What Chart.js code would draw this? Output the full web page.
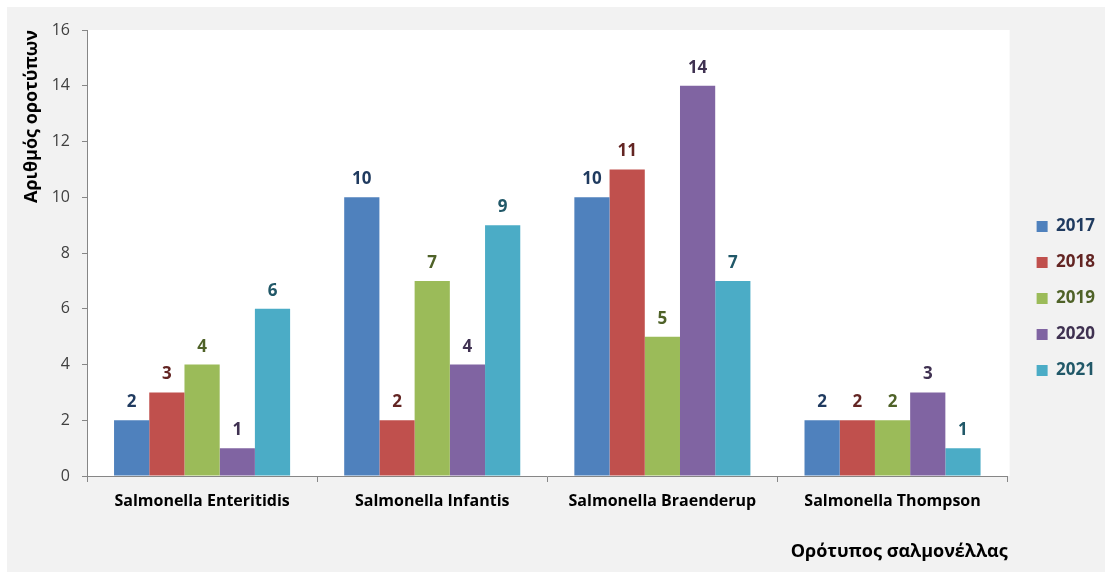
<!DOCTYPE html>
<html>
<head>
<meta charset="utf-8">
<script src="https://cdn.jsdelivr.net/npm/chart.js@4/dist/chart.umd.min.js"></script>
<style>
    html, body { margin: 0; padding: 0; background: #ffffff; }
    #wrap { position: relative; width: 1105px; height: 577px; }
</style>
</head>
<body>
<div id="wrap"><canvas id="serotypeChart" width="1105" height="577"></canvas></div>
<script>
// serotype counts per year
const categories = ['Salmonella Enteritidis', 'Salmonella Infantis', 'Salmonella Braenderup', 'Salmonella Thompson'];
const years = ['2017', '2018', '2019', '2020', '2021'];
const values2017 = [2, 10, 10, 2];
const values2018 = [3, 2, 11, 2];
const values2019 = [4, 7, 5, 2];
const values2020 = [1, 4, 14, 3];
const values2021 = [6, 9, 7, 1];
const yTicks = [0, 2, 4, 6, 8, 10, 12, 14, 16];

// office-style palette + darker shade for the value labels
const barColors = ['#4F81BD', '#C0504D', '#9BBB59', '#8064A2', '#4BACC6'];
const labelColors = ['#1F3A5F', '#632523', '#4F6228', '#3F3151', '#215868'];
const FONT = "'Open Sans', 'DejaVu Sans', sans-serif";

const seriesValues = [values2017, values2018, values2019, values2020, values2021];

// --- background: gray frame with a white plot area ---
const backgroundPlugin = {
    id: 'frameBackground',
    beforeDraw(chart) {
        const ctx = chart.ctx;
        const area = chart.chartArea;
        ctx.save();
        ctx.fillStyle = '#ffffff';
        ctx.fillRect(0, 0, chart.width, chart.height);
        ctx.fillStyle = '#f2f2f2';
        ctx.fillRect(7, 7, chart.width - 7, chart.height - 12);
        ctx.fillStyle = '#ffffff';
        ctx.fillRect(area.left, area.top, area.right - area.left + 2, area.bottom - area.top);
        ctx.restore();
    }
};

// --- value labels above each bar ---
const valueLabelPlugin = {
    id: 'valueLabels',
    afterDatasetsDraw(chart) {
        const ctx = chart.ctx;
        ctx.save();
        ctx.font = 'bold 17px ' + FONT;
        ctx.textAlign = 'center';
        ctx.textBaseline = 'alphabetic';
        chart.data.datasets.forEach((ds, i) => {
            const meta = chart.getDatasetMeta(i);
            ctx.fillStyle = labelColors[i];
            meta.data.forEach((bar, j) => {
                ctx.fillText(String(ds.data[j]), bar.x, bar.y - 13);
            });
        });
        ctx.restore();
    }
};

const ctx = document.getElementById('serotypeChart').getContext('2d');

new Chart(ctx, {
    type: 'bar',
    data: {
        labels: categories,
        datasets: years.map((yr, i) => ({
            label: yr,
            data: seriesValues[i],
            backgroundColor: barColors[i],
            borderWidth: 0,
            barPercentage: 1.0,
            categoryPercentage: 0.765
        }))
    },
    options: {
        responsive: false,
        animation: false,
        devicePixelRatio: 1,
        layout: {
            padding: { left: 10, right: 0, top: 30, bottom: 10 }
        },
        scales: {
            y: {
                min: 0,
                max: 16,
                afterBuildTicks: (scale) => {
                    scale.ticks = yTicks.map(v => ({ value: v }));
                },
                afterFit: (scale) => { scale.width = 77; },
                grid: {
                    drawOnChartArea: false,
                    color: '#868686',
                    tickLength: 5
                },
                border: { color: '#868686', width: 1 },
                ticks: {
                    color: '#404040',
                    padding: 12,
                    font: { family: FONT, size: 16 }
                },
                title: {
                    display: true,
                    text: 'Αριθμός οροτύπων',
                    align: 'end',
                    color: '#000000',
                    padding: { top: 11, bottom: 4 },
                    font: { family: FONT, size: 18, weight: 'bold' }
                }
            },
            // empty spacer between plot and legend
            gap: {
                type: 'linear',
                position: 'right',
                display: true,
                afterFit: (scale) => { scale.width = 10; },
                grid: { display: false },
                border: { display: false },
                ticks: { display: false }
            },
            x: {
                afterFit: (scale) => { scale.height = 91; },
                grid: {
                    drawOnChartArea: false,
                    offset: true,
                    color: '#868686',
                    tickLength: 6
                },
                border: { color: '#868686', width: 1 },
                ticks: {
                    color: '#000000',
                    padding: 10,
                    font: { family: FONT, size: 16, weight: 'bold' }
                },
                title: {
                    display: true,
                    text: 'Ορότυπος σαλμονέλλας',
                    align: 'end',
                    color: '#000000',
                    padding: { top: 0, bottom: 4 },
                    font: { family: FONT, size: 18, weight: 'bold' }
                }
            }
        },
        plugins: {
            legend: {
                position: 'right',
                labels: {
                    boxWidth: 11,
                    boxHeight: 11,
                    padding: 19,
                    font: { family: FONT, size: 17, weight: 'bold' },
                    generateLabels: (chart) => chart.data.datasets.map((ds, i) => ({
                        text: ds.label,
                        fillStyle: barColors[i],
                        strokeStyle: barColors[i],
                        lineWidth: 0,
                        fontColor: labelColors[i],
                        hidden: false,
                        datasetIndex: i
                    }))
                }
            },
            tooltip: { enabled: false }
        }
    },
    plugins: [backgroundPlugin, valueLabelPlugin]
});
</script>
</body>
</html>
